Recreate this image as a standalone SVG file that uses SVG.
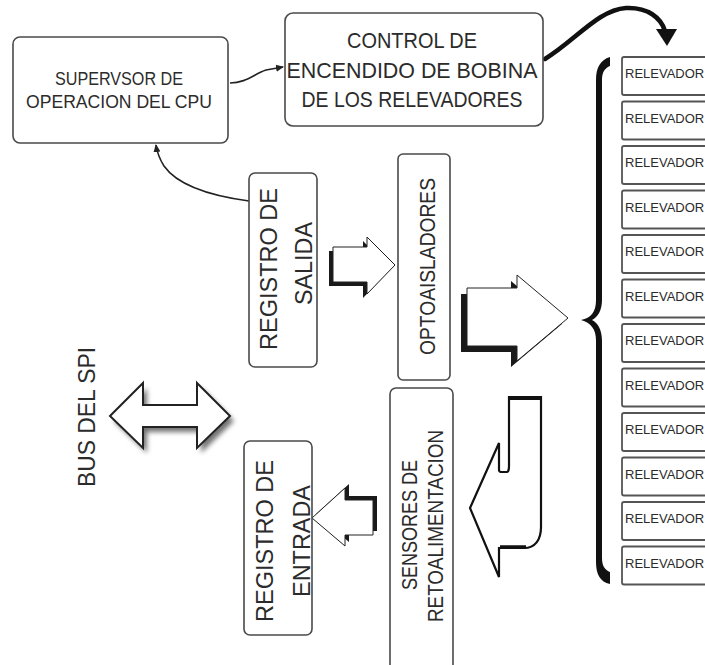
<svg xmlns="http://www.w3.org/2000/svg" width="705" height="665" viewBox="0 0 705 665">
  <style>
    .box { fill: #fff; stroke: #4a4a4a; stroke-width: 1.6; }
    .rel { fill: #fff; stroke: #555; stroke-width: 1.8; }
    .lbl { font-family: "Liberation Sans", Arial, sans-serif; fill: #2b2b2b; text-anchor: middle; }
    .rlbl { font-family: "Liberation Sans", Arial, sans-serif; fill: #2b2b2b; font-size: 13px; }
    .blk { fill: #fff; stroke: #222; stroke-width: 1; stroke-linejoin: miter; }
    .shd { fill: #1a1a1a; stroke: none; }
    .thin { fill: none; stroke: #222; stroke-width: 1.6; }
  </style>
  <defs>
    <marker id="tipSmall" markerWidth="8" markerHeight="8" refX="7" refY="4" orient="auto" markerUnits="userSpaceOnUse">
      <path d="M0,0.5 L8,4 L0,7.5 Z" fill="#222"/>
    </marker>
    <filter id="soft" x="-20%" y="-30%" width="150%" height="170%">
      <feGaussianBlur stdDeviation="2.5"/>
    </filter>
  </defs>

  <rect width="705" height="665" fill="#fff"/>

  <!-- connectors -->
  <g id="connectors">
    <!-- supervisor -> control -->
    <path class="thin" d="M230,83 C246,83 254,74 266,70 L283,67" marker-end="url(#tipSmall)"/>
    <!-- registro de salida -> supervisor -->
    <path class="thin" d="M249,201 C212,196 178,186 164,166 C159,158 157,152 156,145" marker-end="url(#tipSmall)"/>
    <!-- control -> relevadores -->
    <path d="M545,59 C576,40 598,10 626,8 C648,7 661,18 665,31" fill="none" stroke="#111" stroke-width="4.5" stroke-linecap="round"/>
    <path d="M656,29 L677,29 L667,46 Z" fill="#111"/>

    <!-- registro de salida -> optoaisladores -->
    <g transform="translate(-4,4)">
      <path class="shd" d="M333,247 L367,247 L367,237 L395,265 L367,294 L367,282 L333,282 Z"/>
    </g>
    <path class="blk" d="M333,247 L367,247 L367,237 L395,265 L367,294 L367,282 L333,282 Z"/>

    <!-- optoaisladores -> relevadores -->
    <g transform="translate(-6,6)">
      <path class="shd" d="M467,288 L517,288 L517,275 L568,318 L517,361 L517,346 L467,346 Z"/>
    </g>
    <path class="blk" d="M467,288 L517,288 L517,275 L568,318 L517,361 L517,346 L467,346 Z"/>

    <!-- relevadores -> sensores -->
    <path d="M509,397 L541,397 L541,527 C541,540 535,548 524,548 L499,548 L499,577 L470,508 L499,443 L499,470 C499,472 500,472 502,472 L507,472 C508,472 509,470 509,466 Z" fill="#fff" stroke="#111" stroke-width="2.2" stroke-linejoin="miter"/>
    <path d="M509,398 L541,398" stroke="#111" stroke-width="4"/>
    <path d="M500,547 L526,547" stroke="#111" stroke-width="3.5"/>

    <!-- sensores -> registro de entrada -->
    <g transform="translate(4,-4)">
      <path class="shd" d="M312,518 L345,488 L345,500 L373,500 L373,535 L345,535 L345,546 Z"/>
    </g>
    <path class="blk" d="M312,518 L345,488 L345,500 L373,500 L373,535 L345,535 L345,546 Z"/>

    <!-- bus del SPI -->
    <path d="M110,416 L143,383 L143,405 L197,405 L197,383 L230,416 L197,448 L197,427 L143,427 L143,448 Z" transform="translate(4,5)" fill="#000" opacity="0.55" filter="url(#soft)"/>
    <path d="M110,416 L143,383 L143,405 L197,405 L197,383 L230,416 L197,448 L197,427 L143,427 L143,448 Z" fill="#fff" stroke="#222" stroke-width="2"/>

    <!-- brace -->
    <path d="M610,57 C600,60 596,68 596,80 L596,300 C596,312 591,318 581,320 C591,323 596,329 596,341 L596,562 C596,574 600,582 610,584 L610,572 C605,570 602,566 602,558 L602,341 C602,330 598,323 592,320 C598,317 602,310 602,300 L602,80 C602,72 605,68 610,66 Z" fill="#111"/>
  </g>

  <g id="supervisor">
    <rect class="box" x="13" y="37" width="215" height="106" rx="7"/>
    <text class="lbl" x="119" y="85" font-size="17.5" textLength="128" lengthAdjust="spacingAndGlyphs">SUPERVSOR DE</text>
    <text class="lbl" x="119" y="108" font-size="17.5" textLength="186" lengthAdjust="spacingAndGlyphs">OPERACION DEL CPU</text>
  </g>

  <g id="control">
    <rect class="box" x="285" y="13" width="258" height="113" rx="8"/>
    <text class="lbl" x="412" y="48" font-size="21.5" textLength="130" lengthAdjust="spacingAndGlyphs">CONTROL DE</text>
    <text class="lbl" x="412" y="78" font-size="21.5" textLength="251" lengthAdjust="spacingAndGlyphs">ENCENDIDO DE BOBINA</text>
    <text class="lbl" x="412" y="107" font-size="21.5" textLength="221" lengthAdjust="spacingAndGlyphs">DE LOS RELEVADORES</text>
  </g>

  <g id="registro-salida">
    <rect class="box" x="249" y="173" width="68" height="194" rx="6"/>
    <text class="lbl" transform="translate(277,269) rotate(-90)" font-size="24" textLength="162" lengthAdjust="spacingAndGlyphs">REGISTRO DE</text>
    <text class="lbl" transform="translate(312,263.5) rotate(-90)" font-size="24" textLength="83" lengthAdjust="spacingAndGlyphs">SALIDA</text>
  </g>

  <g id="optoaisladores">
    <rect class="box" x="398" y="154" width="52" height="226" rx="5"/>
    <text class="lbl" transform="translate(435,266.5) rotate(-90)" font-size="22.5" textLength="177" lengthAdjust="spacingAndGlyphs">OPTOAISLADORES</text>
  </g>

  <g id="sensores">
    <rect class="box" x="390" y="388" width="63" height="285" rx="6"/>
    <text class="lbl" transform="translate(417,525) rotate(-90)" font-size="22" textLength="130" lengthAdjust="spacingAndGlyphs">SENSORES DE</text>
    <text class="lbl" transform="translate(443,526) rotate(-90)" font-size="22" textLength="192" lengthAdjust="spacingAndGlyphs">RETOALIMENTACION</text>
  </g>

  <g id="registro-entrada">
    <rect class="box" x="244" y="441" width="68" height="194" rx="6"/>
    <text class="lbl" transform="translate(273,541) rotate(-90)" font-size="24" textLength="162" lengthAdjust="spacingAndGlyphs">REGISTRO DE</text>
    <text class="lbl" transform="translate(310,541) rotate(-90)" font-size="24" textLength="112" lengthAdjust="spacingAndGlyphs">ENTRADA</text>
  </g>

  <g id="bus-spi">
    <text class="lbl" transform="translate(95,417) rotate(-90)" font-size="23" textLength="140" lengthAdjust="spacingAndGlyphs">BUS DEL SPI</text>
  </g>

  <g id="relevadores">
    <g id="rel-1"><rect class="rel" x="622" y="57" width="100" height="38" rx="2"/><text class="rlbl" x="625" y="78">RELEVADOR</text></g>
    <g id="rel-2"><rect class="rel" x="622" y="101.5" width="100" height="38" rx="2"/><text class="rlbl" x="625" y="122.5">RELEVADOR</text></g>
    <g id="rel-3"><rect class="rel" x="622" y="146" width="100" height="38" rx="2"/><text class="rlbl" x="625" y="167">RELEVADOR</text></g>
    <g id="rel-4"><rect class="rel" x="622" y="190.5" width="100" height="38" rx="2"/><text class="rlbl" x="625" y="211.5">RELEVADOR</text></g>
    <g id="rel-5"><rect class="rel" x="622" y="235" width="100" height="38" rx="2"/><text class="rlbl" x="625" y="256">RELEVADOR</text></g>
    <g id="rel-6"><rect class="rel" x="622" y="279.5" width="100" height="38" rx="2"/><text class="rlbl" x="625" y="300.5">RELEVADOR</text></g>
    <g id="rel-7"><rect class="rel" x="622" y="324" width="100" height="38" rx="2"/><text class="rlbl" x="625" y="345">RELEVADOR</text></g>
    <g id="rel-8"><rect class="rel" x="622" y="368.5" width="100" height="38" rx="2"/><text class="rlbl" x="625" y="389.5">RELEVADOR</text></g>
    <g id="rel-9"><rect class="rel" x="622" y="413" width="100" height="38" rx="2"/><text class="rlbl" x="625" y="434">RELEVADOR</text></g>
    <g id="rel-10"><rect class="rel" x="622" y="457.5" width="100" height="38" rx="2"/><text class="rlbl" x="625" y="478.5">RELEVADOR</text></g>
    <g id="rel-11"><rect class="rel" x="622" y="502" width="100" height="38" rx="2"/><text class="rlbl" x="625" y="523">RELEVADOR</text></g>
    <g id="rel-12"><rect class="rel" x="622" y="546.5" width="100" height="38" rx="2"/><text class="rlbl" x="625" y="567.5">RELEVADOR</text></g>
  </g>
</svg>
